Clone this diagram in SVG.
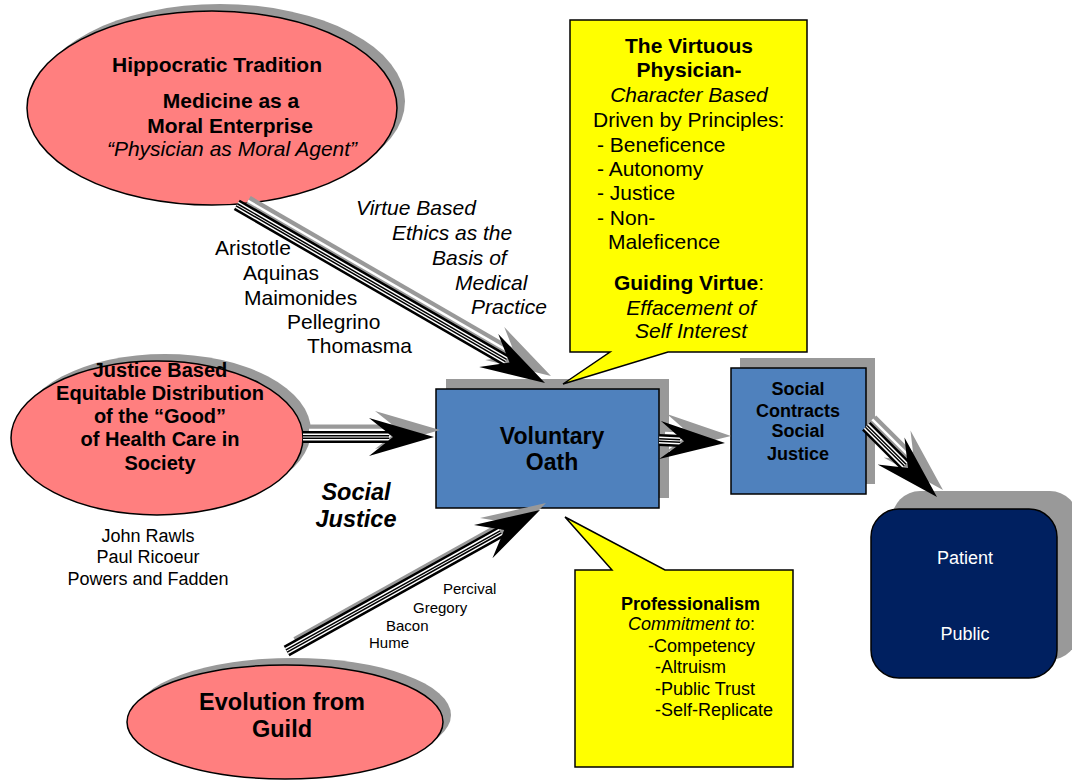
<svg xmlns="http://www.w3.org/2000/svg" width="1072" height="780" viewBox="0 0 1072 780">
<style>
text{font-family:"Liberation Sans",Arial,sans-serif;fill:#000}
.b{font-weight:bold}
.i{font-style:italic}
.mid{text-anchor:middle}
.shadow{fill:#999999;stroke:none}
.pink{fill:#FF7F7F;stroke:#000;stroke-width:1.5}
.blue{fill:#4F81BD;stroke:#000;stroke-width:1.5}
.navy{fill:#002060;stroke:#000;stroke-width:1.5}
.yellow{fill:#FFFF00;stroke:#000;stroke-width:1.5}
.sg{stroke:#999999;stroke-width:11;fill:none}
.sw{stroke:#ffffff;stroke-width:2.5;fill:none}
.b14{stroke:#000;stroke-width:12;fill:none}
.w10{stroke:#fff;stroke-width:7;fill:none}
.b6{stroke:#000;stroke-width:4;fill:none}
.w2{stroke:#fff;stroke-width:1;fill:none}
.hg{fill:#999999}
.hb{fill:#000}
.wt{fill:#fff}
</style>

<g id="hippocratic">
  <ellipse class="shadow" cx="220" cy="101" rx="185" ry="97"/>
  <ellipse class="pink" cx="212" cy="108" rx="185" ry="97"/>
  <text class="b mid" x="217" y="72" font-size="21">Hippocratic Tradition</text>
  <text class="b mid" x="231" y="108" font-size="21">Medicine as a</text>
  <text class="b mid" x="230" y="133" font-size="21">Moral Enterprise</text>
  <text class="i mid" x="232" y="156" font-size="21">“Physician as Moral Agent”</text>
</g>

<g id="justice">
  <ellipse class="shadow" cx="165" cy="431" rx="146" ry="77"/>
  <ellipse class="pink" cx="157" cy="438" rx="146" ry="77"/>
  <text class="b mid" font-size="20" x="160" y="377">Justice Based</text>
  <text class="b mid" font-size="20" x="160" y="400">Equitable Distribution</text>
  <text class="b mid" font-size="20" x="160" y="423">of the “Good”</text>
  <text class="b mid" font-size="20" x="160" y="446">of Health Care in</text>
  <text class="b mid" font-size="20" x="160" y="470">Society</text>
</g>

<g id="guild">
  <ellipse class="shadow" cx="293" cy="715" rx="158" ry="57"/>
  <ellipse class="pink" cx="285" cy="722" rx="158" ry="57"/>
  <text class="b mid" font-size="23.5" x="282" y="710">Evolution from</text>
  <text class="b mid" font-size="23.5" x="282" y="737">Guild</text>
</g>

<g id="oath">
  <rect class="shadow" x="446" y="379" width="223" height="119"/>
  <rect class="blue" x="436" y="389" width="223" height="119"/>
  <text class="b mid" font-size="23" x="552" y="444">Voluntary</text>
  <text class="b mid" font-size="23" x="552" y="470">Oath</text>
</g>

<g id="social-contracts">
  <rect class="shadow" x="740" y="358" width="135" height="126"/>
  <rect class="blue" x="731" y="368" width="135" height="126"/>
  <text class="b mid" font-size="18" x="798" y="395">Social</text>
  <text class="b mid" font-size="18" x="798" y="417">Contracts</text>
  <text class="b mid" font-size="18" x="798" y="437">Social</text>
  <text class="b mid" font-size="18" x="798" y="460">Justice</text>
</g>

<g id="patient-public">
  <rect class="shadow" x="892" y="491" width="186" height="169" rx="28" ry="28"/>
  <rect class="navy" x="871" y="509" width="186" height="169" rx="28" ry="28"/>
  <text class="mid wt" font-size="18" x="965" y="564">Patient</text>
  <text class="mid wt" font-size="18" x="965" y="640">Public</text>
</g>

<g id="connectors">
  <g id="arrow-hippocratic-oath">
    <g transform="translate(551,376) rotate(30.03)">
      <line class="sg" x1="-350" y1="0" x2="-45" y2="0"/>
      <line class="sw" x1="-350" y1="0" x2="-45" y2="0"/>
      <polygon class="hg" points="0,0 -65,-19 -41,0 -65,19"/>
    </g>
    <g transform="translate(545,383) rotate(30.03)">
      <line class="b14" x1="-356" y1="0" x2="-45" y2="0"/>
      <line class="w10" x1="-356" y1="0" x2="-45" y2="0"/>
      <line class="b6" x1="-356" y1="0" x2="-45" y2="0"/>
      <line class="w2" x1="-356" y1="0" x2="-45" y2="0"/>
      <polygon class="hb" points="0,0 -65,-19 -41,0 -65,19"/>
    </g>
  </g>
  <g id="arrow-justice-oath">
    <g transform="translate(440,430)">
      <line class="sg" x1="-131" y1="0" x2="-45" y2="0"/>
      <line class="sw" x1="-131" y1="0" x2="-45" y2="0"/>
      <polygon class="hg" points="0,0 -65,-19 -41,0 -65,19"/>
    </g>
    <g transform="translate(434,437)">
      <line class="b14" x1="-131" y1="0" x2="-45" y2="0"/>
      <line class="w10" x1="-131" y1="0" x2="-45" y2="0"/>
      <line class="b6" x1="-131" y1="0" x2="-45" y2="0"/>
      <line class="w2" x1="-131" y1="0" x2="-45" y2="0"/>
      <polygon class="hb" points="0,0 -65,-19 -41,0 -65,19"/>
    </g>
  </g>
  <g id="arrow-guild-oath">
    <g transform="translate(546,503) rotate(-29.1)">
      <line class="sg" x1="-286" y1="0" x2="-45" y2="0"/>
      <line class="sw" x1="-286" y1="0" x2="-45" y2="0"/>
      <polygon class="hg" points="0,0 -65,-19 -41,0 -65,19"/>
    </g>
    <g transform="translate(540,510) rotate(-29.1)">
      <line class="b14" x1="-290" y1="0" x2="-45" y2="0"/>
      <line class="w10" x1="-290" y1="0" x2="-45" y2="0"/>
      <line class="b6" x1="-290" y1="0" x2="-45" y2="0"/>
      <line class="w2" x1="-290" y1="0" x2="-45" y2="0"/>
      <polygon class="hb" points="0,0 -65,-19 -41,0 -65,19"/>
    </g>
  </g>
  <g id="arrow-oath-social">
    <g transform="translate(731,436) rotate(2.6)">
      <line class="sg" x1="-66" y1="0" x2="-45" y2="0"/>
      <line class="sw" x1="-66" y1="0" x2="-45" y2="0"/>
      <polygon class="hg" points="0,0 -65,-19 -41,0 -65,19"/>
    </g>
    <g transform="translate(725,443) rotate(2.6)">
      <line class="b14" x1="-66" y1="0" x2="-45" y2="0"/>
      <line class="w10" x1="-66" y1="0" x2="-45" y2="0"/>
      <line class="b6" x1="-66" y1="0" x2="-45" y2="0"/>
      <line class="w2" x1="-66" y1="0" x2="-45" y2="0"/>
      <polygon class="hb" points="0,0 -65,-19 -41,0 -65,19"/>
    </g>
  </g>
  <g id="arrow-social-patient">
    <g transform="translate(943,490) rotate(45)">
      <line class="sg" x1="-100" y1="0" x2="-45" y2="0"/>
      <line class="sw" x1="-100" y1="0" x2="-45" y2="0"/>
      <polygon class="hg" points="0,0 -65,-19 -41,0 -65,19"/>
    </g>
    <g transform="translate(937,497) rotate(45)">
      <line class="b14" x1="-100" y1="0" x2="-45" y2="0"/>
      <line class="w10" x1="-100" y1="0" x2="-45" y2="0"/>
      <line class="b6" x1="-100" y1="0" x2="-45" y2="0"/>
      <line class="w2" x1="-100" y1="0" x2="-45" y2="0"/>
      <polygon class="hb" points="0,0 -65,-19 -41,0 -65,19"/>
    </g>
  </g>
</g>

<g id="virtuous-callout">
  <path class="yellow" d="M570,20 H807 V352 H668 L563,384 L610,352 H570 Z"/>
  <text class="b mid" font-size="21" x="689" y="53">The Virtuous</text>
  <text class="b mid" font-size="21" x="689" y="77">Physician-</text>
  <text class="i mid" font-size="21" x="689" y="102">Character Based</text>
  <text font-size="21" x="593" y="127">Driven by Principles:</text>
  <text font-size="21" x="597" y="152">- Beneficence</text>
  <text font-size="21" x="597" y="176">- Autonomy</text>
  <text font-size="21" x="597" y="200">- Justice</text>
  <text font-size="21" x="597" y="225">- Non-</text>
  <text font-size="21" x="608" y="249">Maleficence</text>
  <text class="mid" font-size="21" x="689" y="290"><tspan class="b">Guiding Virtue</tspan>:</text>
  <text class="i mid" font-size="21" x="691" y="315">Effacement of</text>
  <text class="i mid" font-size="21" x="691" y="338">Self Interest</text>
</g>

<g id="professionalism-callout">
  <path class="yellow" d="M575,570 H612 L565,517 L665,570 H793 V767 H575 Z"/>
  <text class="b" font-size="18" x="621" y="610">Professionalism</text>
  <text font-size="18" x="628" y="630"><tspan class="i">Commitment to</tspan>:</text>
  <text font-size="18" x="648" y="652">-Competency</text>
  <text font-size="18" x="655" y="673">-Altruism</text>
  <text font-size="18" x="655" y="695">-Public Trust</text>
  <text font-size="18" x="655" y="716">-Self-Replicate</text>
</g>

<g id="labels">
  <text class="i" font-size="21" x="356" y="215">Virtue Based</text>
  <text class="i" font-size="21" x="392" y="240">Ethics as the</text>
  <text class="i" font-size="21" x="432" y="265">Basis of</text>
  <text class="i" font-size="21" x="455" y="290">Medical</text>
  <text class="i" font-size="21" x="471" y="314">Practice</text>
  <text font-size="21" x="215" y="255">Aristotle</text>
  <text font-size="21" x="243" y="280">Aquinas</text>
  <text font-size="21" x="244" y="305">Maimonides</text>
  <text font-size="21" x="287" y="329">Pellegrino</text>
  <text font-size="21" x="307" y="353">Thomasma</text>
  <text class="b i mid" font-size="23.5" x="356" y="500">Social</text>
  <text class="b i mid" font-size="23.5" x="356" y="527">Justice</text>
  <text class="mid" font-size="18" x="148" y="542">John Rawls</text>
  <text class="mid" font-size="18" x="148" y="563">Paul Ricoeur</text>
  <text class="mid" font-size="18" x="148" y="585">Powers and Fadden</text>
  <text font-size="15" x="443" y="594">Percival</text>
  <text font-size="15" x="413" y="613">Gregory</text>
  <text font-size="15" x="386" y="631">Bacon</text>
  <text font-size="15" x="369" y="648">Hume</text>
</g>
</svg>
